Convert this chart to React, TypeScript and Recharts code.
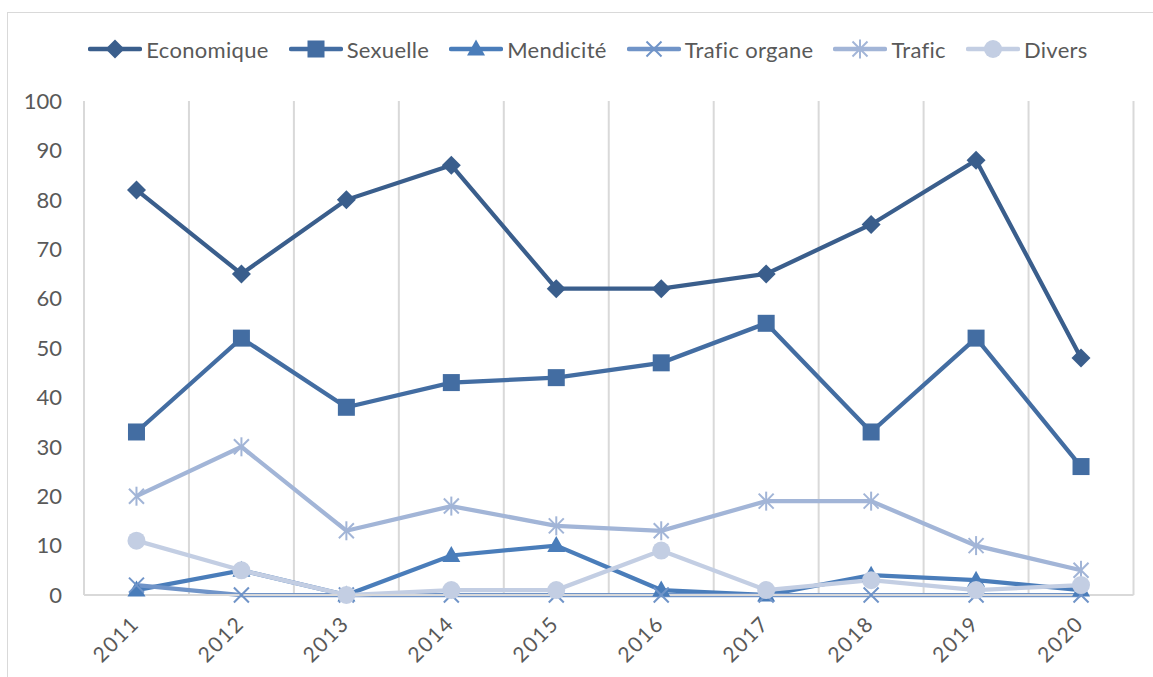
import { LineChart, Line, XAxis, YAxis, ReferenceLine } from "recharts";

const YEARS = ["2011", "2012", "2013", "2014", "2015", "2016", "2017", "2018", "2019", "2020"];
const ECONOMIQUE = [82, 65, 80, 87, 62, 62, 65, 75, 88, 48];
const SEXUELLE = [33, 52, 38, 43, 44, 47, 55, 33, 52, 26];
const MENDICITE = [1, 5, 0, 8, 10, 1, 0, 4, 3, 1];
const TRAFIC_ORGANE = [2, 0, 0, 0, 0, 0, 0, 0, 0, 0];
const TRAFIC = [20, 30, 13, 18, 14, 13, 19, 19, 10, 5];
const DIVERS = [11, 5, 0, 1, 1, 9, 1, 3, 1, 2];
const Y_TICKS = [0, 10, 20, 30, 40, 50, 60, 70, 80, 90, 100];

const FONT = "Lato, 'Open Sans', sans-serif";
const TEXT = "#595959";
const GRID = "#D9D9D9";

type Marker = "diamond" | "square" | "triangle" | "x" | "star" | "circle";

const SERIES: { key: string; name: string; values: number[]; color: string; marker: Marker }[] = [
  { key: "economique", name: "Economique", values: ECONOMIQUE, color: "#3A5E8C", marker: "diamond" },
  { key: "sexuelle", name: "Sexuelle", values: SEXUELLE, color: "#436DA2", marker: "square" },
  { key: "mendicite", name: "Mendicité", values: MENDICITE, color: "#4A7DBA", marker: "triangle" },
  { key: "traficOrgane", name: "Trafic organe", values: TRAFIC_ORGANE, color: "#7094C8", marker: "x" },
  { key: "trafic", name: "Trafic", values: TRAFIC, color: "#A2B5D7", marker: "star" },
  { key: "divers", name: "Divers", values: DIVERS, color: "#C3CEE3", marker: "circle" },
];

const data = YEARS.map((year, i) => {
  const row: Record<string, number | string> = { idx: i, year };
  SERIES.forEach((s) => (row[s.key] = s.values[i]));
  return row;
});

// vertical gridlines sit between the years, plus both plot edges
const BOUNDARIES = YEARS.map((_, i) => i - 0.5).concat([YEARS.length - 0.5]);

function MarkerShape({ kind, cx, cy, color }: { kind: Marker; cx: number; cy: number; color: string }) {
  switch (kind) {
    case "diamond":
      return <polygon points={`${cx},${cy - 9.5} ${cx + 9.5},${cy} ${cx},${cy + 9.5} ${cx - 9.5},${cy}`} fill={color} />;
    case "square":
      return <rect x={cx - 8.5} y={cy - 8.5} width={17} height={17} fill={color} />;
    case "triangle":
      return <polygon points={`${cx},${cy - 9.5} ${cx + 9},${cy + 6.5} ${cx - 9},${cy + 6.5}`} fill={color} />;
    case "x":
      return (
        <g stroke={color} strokeWidth={2}>
          <line x1={cx - 7.5} y1={cy - 7.5} x2={cx + 7.5} y2={cy + 7.5} />
          <line x1={cx - 7.5} y1={cy + 7.5} x2={cx + 7.5} y2={cy - 7.5} />
        </g>
      );
    case "star":
      return (
        <g stroke={color} strokeWidth={2}>
          <line x1={cx - 7.5} y1={cy - 7.5} x2={cx + 7.5} y2={cy + 7.5} />
          <line x1={cx - 7.5} y1={cy + 7.5} x2={cx + 7.5} y2={cy - 7.5} />
          <line x1={cx} y1={cy - 9.5} x2={cx} y2={cy + 9.5} />
        </g>
      );
    default:
      return <circle cx={cx} cy={cy} r={9} fill={color} />;
  }
}

function YearTick({ x, y, payload }: any) {
  return (
    <text
      x={x + 4}
      y={y + 30}
      transform={`rotate(-45 ${x + 4} ${y + 30})`}
      textAnchor="end"
      fill={TEXT}
      fontSize={21}
      letterSpacing={1.5}
      fontFamily={FONT}
    >
      {YEARS[payload.value]}
    </text>
  );
}

function LegendRow() {
  return (
    <div
      style={{
        position: "absolute",
        left: 0,
        top: 35,
        width: 1176,
        display: "flex",
        justifyContent: "center",
        gap: 20,
        fontFamily: FONT,
        fontSize: 22,
        letterSpacing: 0.3,
        color: TEXT,
      }}
    >
      {SERIES.map((s) => (
        <div key={s.key} style={{ display: "flex", alignItems: "center", gap: 4 }}>
          <svg width={54} height={28}>
            <line x1={2} y1={14} x2={52} y2={14} stroke={s.color} strokeWidth={4.5} strokeLinecap="round" />
            <MarkerShape kind={s.marker} cx={27} cy={14} color={s.color} />
          </svg>
          <span>{s.name}</span>
        </div>
      ))}
    </div>
  );
}

export default function App() {
  return (
    <div
      style={{
        position: "absolute",
        left: 0,
        top: 0,
        width: 1153,
        height: 677,
        overflow: "hidden",
        background: "#fff",
      }}
    >
      <div
        style={{
          position: "absolute",
          left: 7,
          top: 12,
          width: 1170,
          height: 700,
          border: `1.5px solid ${GRID}`,
        }}
      />
      <LegendRow />
      <div style={{ position: "absolute", left: 0, top: 0 }}>
        <LineChart width={1153} height={677} data={data} margin={{ top: 101, right: 19.5, bottom: 0, left: 0 }}>
          <XAxis
            dataKey="idx"
            type="number"
            domain={[-0.5, YEARS.length - 0.5]}
            ticks={YEARS.map((_, i) => i)}
            interval={0}
            height={82}
            tickLine={false}
            tickSize={0}
            tickMargin={0}
            axisLine={{ stroke: GRID, strokeWidth: 2 }}
            tick={<YearTick />}
          />
          <YAxis
            type="number"
            domain={[0, 100]}
            ticks={Y_TICKS}
            interval={0}
            width={84}
            axisLine={false}
            tickLine={false}
            tickSize={0}
            tickMargin={22}
            tick={{ fill: TEXT, fontSize: 22, fontFamily: FONT }}
          />
          {BOUNDARIES.map((b) => (
            <ReferenceLine key={b} x={b} stroke={GRID} strokeWidth={2} />
          ))}
          {SERIES.map((s) => (
            <Line
              key={s.key}
              dataKey={s.key}
              name={s.name}
              type="linear"
              stroke={s.color}
              strokeWidth={4.25}
              isAnimationActive={false}
              activeDot={false}
              dot={(p: any) => <MarkerShape key={`${s.key}-${p.index}`} kind={s.marker} cx={p.cx} cy={p.cy} color={s.color} />}
            />
          ))}
        </LineChart>
      </div>
    </div>
  );
}
